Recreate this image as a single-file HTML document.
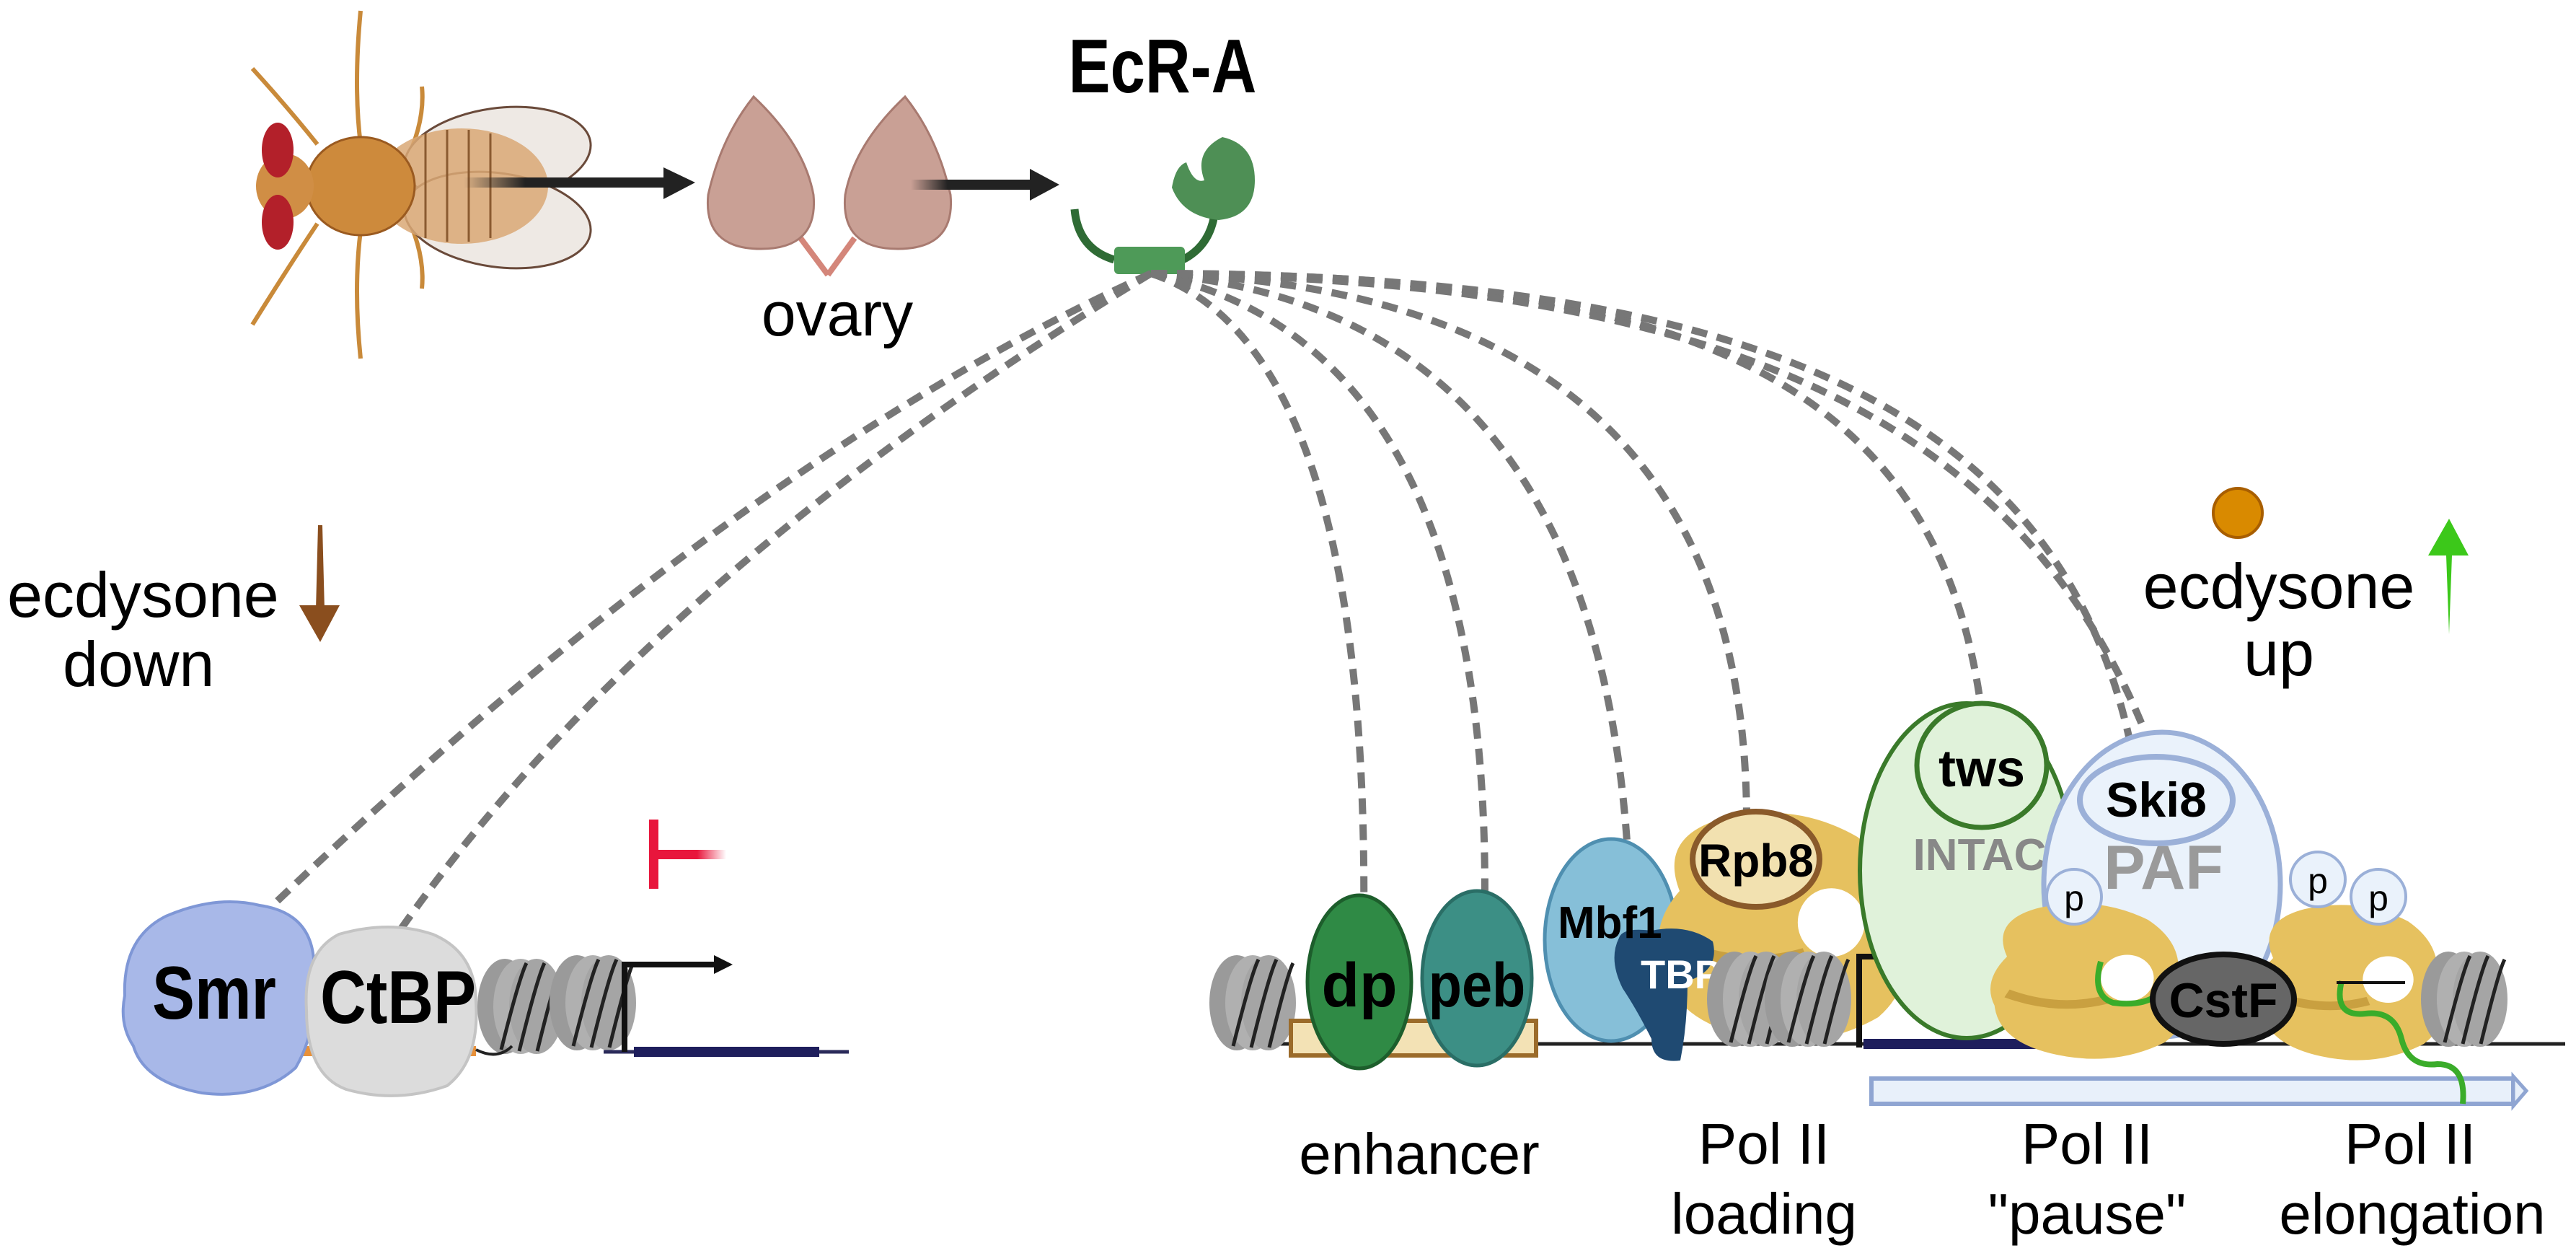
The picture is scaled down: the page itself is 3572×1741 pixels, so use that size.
<!DOCTYPE html>
<html><head><meta charset="utf-8"><style>
html,body{margin:0;padding:0;background:#fff;}
svg{display:block;}
text{font-family:"Liberation Sans",sans-serif;}
</style></head><body>
<svg width="3572" height="1741" viewBox="0 0 3572 1741" xmlns="http://www.w3.org/2000/svg">
<defs>
<linearGradient id="fadeR" x1="0" x2="1"><stop offset="0" stop-color="#e8163c"/><stop offset="0.6" stop-color="#e8163c"/><stop offset="1" stop-color="#e8163c" stop-opacity="0"/></linearGradient>
<linearGradient id="fadeK" x1="0" x2="1"><stop offset="0" stop-color="#222" stop-opacity="0"/><stop offset="0.3" stop-color="#222"/><stop offset="1" stop-color="#222"/></linearGradient>
<g id="nuc">
<ellipse cx="0" cy="0" rx="38" ry="66" fill="#9a9a9a"/>
<ellipse cx="22" cy="0" rx="38" ry="66" fill="#b0b0b0"/>
<ellipse cx="44" cy="0" rx="38" ry="66" fill="#a5a5a5"/>
<path d="M-5 60 Q20 -40 30 -60 M20 62 Q45 -40 55 -60 M45 62 Q70 -40 78 -55" stroke="#222" stroke-width="5" fill="none"/>
</g>
<g id="pol">
<path d="M20 60 Q0 0 60 -20 Q130 -40 190 0 Q235 40 225 100 Q250 160 210 200 Q150 240 80 220 Q10 200 5 140 Q-10 100 20 60Z" fill="#e6c15f"/>
<path d="M20 120 Q80 150 140 130" stroke="#c9a040" stroke-width="14" fill="none"/>
<ellipse cx="165" cy="95" rx="32" ry="38" fill="#fff"/>
</g>
</defs>

<!-- fly -->
<g>
<g stroke="#c98a3a" stroke-width="6" fill="none">
<path d="M500 200 Q490 120 500 15"/><path d="M440 200 Q400 150 350 95"/><path d="M560 230 Q590 170 585 120"/>
<path d="M500 320 Q490 400 500 497"/><path d="M440 310 Q400 370 350 450"/><path d="M560 290 Q590 350 585 400"/>
</g>
<ellipse cx="690" cy="215" rx="130" ry="65" fill="#eee9e4" stroke="#6a4a3a" stroke-width="3" transform="rotate(-8 690 215)"/>
<ellipse cx="690" cy="305" rx="130" ry="65" fill="#eee9e4" stroke="#6a4a3a" stroke-width="3" transform="rotate(8 690 305)"/>
<ellipse cx="640" cy="258" rx="120" ry="80" fill="#d9a875" opacity="0.85"/>
<g stroke="#8a5a30" stroke-width="3"><line x1="590" y1="185" x2="590" y2="330"/><line x1="620" y1="180" x2="620" y2="335"/><line x1="650" y1="180" x2="650" y2="335"/><line x1="680" y1="185" x2="680" y2="330"/></g>
<ellipse cx="500" cy="258" rx="75" ry="68" fill="#cd8a3c" stroke="#9a5a20" stroke-width="3"/>
<ellipse cx="395" cy="258" rx="40" ry="45" fill="#d08e45"/>
<ellipse cx="385" cy="208" rx="22" ry="38" fill="#b3202a"/>
<ellipse cx="385" cy="308" rx="22" ry="38" fill="#b3202a"/>
</g>
<rect x="643" y="246" width="285" height="14" fill="url(#fadeK)"/>
<polygon points="920,232 964,253 920,276" fill="#222"/>

<!-- ovary -->
<path d="M1148 381 L1110 330 M1148 381 L1185 330" stroke="#d4867a" stroke-width="8" fill="none"/>
<path d="M1045 134 Q1000 190 982 270 Q975 345 1055 345 Q1135 345 1128 270 Q1115 200 1045 134Z" fill="#c9a095" stroke="#a87a70" stroke-width="3"/>
<path d="M1255 134 Q1185 200 1172 270 Q1165 345 1245 345 Q1325 345 1318 270 Q1300 190 1255 134Z" fill="#c9a095" stroke="#a87a70" stroke-width="3"/>
<text x="1161" y="465" font-size="86" text-anchor="middle">ovary</text>
<rect x="1263" y="249" width="170" height="14" fill="url(#fadeK)"/>
<polygon points="1428,234 1469,256 1428,278" fill="#222"/>

<!-- EcR-A -->
<text x="1612" y="128" font-size="106" font-weight="bold" text-anchor="middle" transform="translate(1612 0) scale(0.82 1) translate(-1612 0)">EcR-A</text>
<path d="M1490 290 Q1495 345 1545 360" stroke="#2f6b35" stroke-width="11" fill="none"/>
<path d="M1640 360 Q1680 340 1685 290" stroke="#2f6b35" stroke-width="11" fill="none"/>
<rect x="1545" y="342" width="98" height="38" rx="6" fill="#4e9a58"/>
<path d="M1695 190 Q1740 200 1740 250 Q1740 300 1690 305 Q1640 300 1625 260 Q1630 230 1645 225 Q1655 255 1670 250 Q1655 210 1695 190Z" fill="#4e8f55"/>

<!-- dashed connectors -->
<g stroke="#777" stroke-width="10" stroke-dasharray="22 14" fill="none">
<path d="M1596 379 Q1000 650 323 1308"/>
<path d="M1596 379 Q900 800 555 1289"/>
<path d="M1596 379 Q1900 480 1891 1286"/>
<path d="M1596 379 Q2080 480 2058 1302"/>
<path d="M1596 379 Q2250 430 2261 1286"/>
<path d="M1596 379 Q2420 400 2422 1136"/>
<path d="M1596 379 C2300 380 2700 500 2751 1015"/>
<path d="M1596 379 C2400 380 2850 550 2954 1030"/>
<path d="M1596 379 C2450 390 2950 600 3055 1324"/>
</g>

<!-- ecdysone down -->
<text x="10" y="855" font-size="88">ecdysone</text>
<text x="87" y="951" font-size="88">down</text>
<path d="M441 728 L447 728 L450 845 L438 845Z" fill="#8a4e1e"/>
<polygon points="415,839 471,839 444,890" fill="#8a4e1e"/>

<!-- left gene -->
<rect x="420" y="1450" width="240" height="14" fill="#e8913a"/>
<path d="M173 1380 Q170 1300 230 1270 Q300 1240 360 1255 Q430 1265 435 1330 Q445 1420 410 1480 Q360 1525 280 1515 Q200 1500 185 1450 Q165 1420 173 1380Z" fill="#a8b8e8" stroke="#7f97d6" stroke-width="4"/>
<path d="M425 1400 Q420 1320 470 1295 Q540 1275 600 1295 Q660 1320 660 1390 Q665 1470 620 1505 Q550 1530 480 1510 Q425 1490 425 1400Z" fill="#dcdcdc" stroke="#c4c4c4" stroke-width="4"/>
<text x="211" y="1412" font-size="104" font-weight="bold" transform="translate(211 0) scale(0.85 1) translate(-211 0)">Smr</text>
<text x="444" y="1418" font-size="104" font-weight="bold" transform="translate(444 0) scale(0.85 1) translate(-444 0)">CtBP</text>
<use href="#nuc" x="700" y="1395"/>
<use href="#nuc" x="800" y="1390"/>
<path d="M660 1455 Q690 1470 710 1450" stroke="#222" stroke-width="4" fill="none"/>
<line x1="837" y1="1458" x2="1177" y2="1458" stroke="#2a2a5a" stroke-width="5"/>
<line x1="879" y1="1458" x2="1136" y2="1458" stroke="#1e1e5c" stroke-width="14"/>
<path d="M866 1458 L866 1337 L995 1337" stroke="#111" stroke-width="8" fill="none"/>
<polygon points="990,1324 1016,1337 990,1350" fill="#111"/>
<rect x="900" y="1136" width="13" height="96" fill="#e8163c"/>
<rect x="906" y="1178" width="101" height="13" fill="url(#fadeR)"/>

<!-- ecdysone up -->
<circle cx="3103" cy="711" r="34" fill="#d98a00" stroke="#a85e00" stroke-width="4"/>
<text x="3160" y="843" font-size="88" text-anchor="middle">ecdysone</text>
<text x="3160" y="936" font-size="88" text-anchor="middle">up</text>
<polygon points="3396,719 3423,770 3400,770 3396,879 3392,770 3367,770" fill="#3cc81a"/>

<!-- right DNA -->
<line x1="1700" y1="1447" x2="3557" y2="1447" stroke="#222" stroke-width="5"/>
<use href="#nuc" x="1715" y="1390"/>
<rect x="1790" y="1415" width="340" height="48" fill="#f3e2b5" stroke="#9b6b2a" stroke-width="6"/>
<ellipse cx="1885" cy="1361" rx="72" ry="120" fill="#2f8a45" stroke="#1d5e2c" stroke-width="5"/>
<ellipse cx="2048" cy="1356" rx="76" ry="121" fill="#3c8f85" stroke="#2a6e66" stroke-width="5"/>
<text x="1885" y="1395" font-size="86" font-weight="bold" text-anchor="middle">dp</text>
<text x="2048" y="1395" font-size="86" font-weight="bold" text-anchor="middle" transform="translate(2048 0) scale(0.88 1) translate(-2048 0)">peb</text>
<ellipse cx="2234" cy="1303" rx="92" ry="140" fill="#86bfd8" stroke="#4f8fb0" stroke-width="5"/>
<use href="#pol" transform="translate(2300 1160) scale(1.45 1.25)"/>
<ellipse cx="2435" cy="1191" rx="88" ry="66" fill="#f2e1b0" stroke="#8a5a2a" stroke-width="8"/>
<text x="2435" y="1215" font-size="64" font-weight="bold" text-anchor="middle">Rpb8</text>
<path d="M2245 1300 Q2250 1285 2290 1290 Q2340 1280 2375 1305 Q2385 1345 2340 1360 Q2340 1420 2330 1470 Q2290 1475 2290 1440 Q2270 1400 2250 1370 Q2230 1330 2245 1300Z" fill="#1f4a72"/>
<text x="2160" y="1300" font-size="62" font-weight="bold">Mbf1</text>
<text x="2275" y="1370" font-size="56" font-weight="bold" fill="#fff">TBP</text>
<use href="#nuc" x="2405" y="1385"/>
<use href="#nuc" x="2485" y="1385"/>
<line x1="2584" y1="1447" x2="2846" y2="1447" stroke="#1e1e5c" stroke-width="14"/>
<path d="M2578 1452 L2578 1326 L2705 1326" stroke="#111" stroke-width="8" fill="none"/>
<polygon points="2700,1311 2727,1326 2700,1341" fill="#111"/>
<ellipse cx="2727" cy="1207" rx="148" ry="232" fill="#e0f2da" stroke="#3a7a2a" stroke-width="6"/>
<ellipse cx="2748" cy="1061" rx="90" ry="86" fill="#e0f2da" stroke="#3a7a2a" stroke-width="7"/>
<text x="2748" y="1090" font-size="72" font-weight="bold" text-anchor="middle">tws</text>
<text x="2745" y="1206" font-size="62" font-weight="bold" fill="#888" text-anchor="middle">INTAC</text>
<ellipse cx="2998" cy="1226" rx="164" ry="211" fill="#eaf2fb" stroke="#9bb0d8" stroke-width="7"/>
<ellipse cx="2990" cy="1109" rx="106" ry="60" fill="#eaf2fb" stroke="#9bb0d8" stroke-width="8"/>
<text x="2990" y="1132" font-size="68" font-weight="bold" text-anchor="middle">Ski8</text>
<text x="3000" y="1232" font-size="86" font-weight="bold" fill="#9a9a9a" text-anchor="middle">PAF</text>
<use href="#pol" transform="translate(2760 1275) scale(1.15 0.85)"/>
<use href="#pol" transform="translate(3130 1277) scale(1.1 0.85)"/>
<circle cx="2876" cy="1243" r="38" fill="#eaf2fb" stroke="#9bb0d8" stroke-width="4"/>
<circle cx="3214" cy="1219" r="38" fill="#eaf2fb" stroke="#9bb0d8" stroke-width="4"/>
<circle cx="3298" cy="1243" r="38" fill="#eaf2fb" stroke="#9bb0d8" stroke-width="4"/>
<text x="2876" y="1262" font-size="50" text-anchor="middle">p</text>
<text x="3214" y="1238" font-size="50" text-anchor="middle">p</text>
<text x="3298" y="1262" font-size="50" text-anchor="middle">p</text>
<rect x="2595" y="1495" width="890" height="35" fill="#e8f0fa" stroke="#8fa5d2" stroke-width="6"/>
<polygon points="3485,1492 3503,1512 3485,1533" fill="#e8f0fa" stroke="#8fa5d2" stroke-width="5"/>
<path d="M2913 1333 Q2900 1380 2930 1390 Q2970 1395 2990 1380" stroke="#3aac2a" stroke-width="8" fill="none"/>
<path d="M3247 1360 Q3235 1410 3280 1405 Q3320 1400 3330 1440 Q3340 1480 3380 1475 Q3420 1475 3415 1530" stroke="#3aac2a" stroke-width="8" fill="none"/>
<line x1="3240" y1="1362" x2="3335" y2="1362" stroke="#111" stroke-width="4"/>
<ellipse cx="3083" cy="1385" rx="98" ry="62" fill="#666" stroke="#111" stroke-width="8"/>
<text x="3083" y="1410" font-size="68" font-weight="bold" text-anchor="middle">CstF</text>
<use href="#nuc" x="3395" y="1385"/>

<!-- labels -->
<text x="1968" y="1627" font-size="80" text-anchor="middle">enhancer</text>
<text x="2446" y="1613" font-size="80" text-anchor="middle">Pol II</text>
<text x="2446" y="1710" font-size="80" text-anchor="middle">loading</text>
<text x="2894" y="1613" font-size="80" text-anchor="middle">Pol II</text>
<text x="2894" y="1710" font-size="80" text-anchor="middle">"pause"</text>
<text x="3342" y="1613" font-size="80" text-anchor="middle">Pol II</text>
<text x="3345" y="1710" font-size="80" text-anchor="middle">elongation</text>
</svg>
</body></html>
